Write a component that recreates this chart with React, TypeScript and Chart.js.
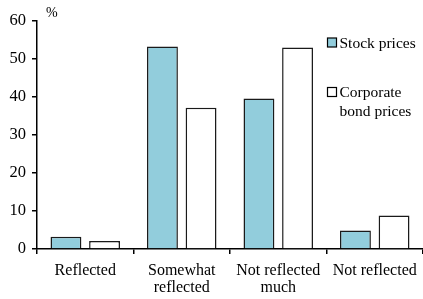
import React, { useEffect, useRef } from "react";
import { Chart, registerables } from "chart.js";

Chart.register(...registerables);

const categories: (string | string[])[] = [
  "Reflected",
  ["Somewhat", "reflected"],
  ["Not reflected", "much"],
  "Not reflected",
];
const stockPrices = [3.2, 53.3, 39.6, 4.9];
const bondPrices = [2.1, 37.2, 53.0, 8.8];
const seriesLabels = ["Stock prices", ["Corporate", "bond prices"]];
const yTicks = [0, 10, 20, 30, 40, 50, 60];
const unitLabel = "%";

const FONT = "'Liberation Serif', 'Times New Roman', serif";

const overlayPlugin = {
  id: "overlay",
  afterDraw(chart: any) {
    const ctx = chart.ctx;
    const area = chart.chartArea;
    ctx.save();
    ctx.fillStyle = "#000";
    ctx.font = `14px ${FONT}`;
    ctx.textAlign = "left";
    ctx.textBaseline = "alphabetic";
    ctx.fillText(unitLabel, area.left + 9, area.top - 4);

    // legend
    const items = chart.data.datasets.map((d: any, i: number) => ({
      text: seriesLabels[i],
      fill: d.backgroundColor,
    }));
    const lx = 327.5;
    const ys = [42.5, 92];
    ctx.font = `15.5px ${FONT}`;
    ctx.textBaseline = "middle";
    items.forEach((it: any, i: number) => {
      const y = ys[i];
      ctx.fillStyle = it.fill;
      ctx.fillRect(lx, y - 4.5, 9, 9);
      ctx.strokeStyle = "#000";
      ctx.lineWidth = 1.2;
      ctx.strokeRect(lx, y - 4.5, 9, 9);
      ctx.fillStyle = "#000";
      const lines = Array.isArray(it.text) ? it.text : [it.text];
      lines.forEach((ln: string, j: number) => {
        ctx.fillText(ln, lx + 12, y + 1 + j * 19);
      });
    });
    ctx.restore();
  },
};

export default function App() {
  const ref = useRef<HTMLCanvasElement | null>(null);
  useEffect(() => {
    if (!ref.current) return;
    const chart = new Chart(ref.current, {
      type: "bar",
      data: {
        labels: categories as any,
        datasets: [
          {
            label: "Stock prices",
            data: stockPrices,
            backgroundColor: "#92CDDC",
            borderColor: "#1a1a1a",
            borderWidth: 1.5,
            categoryPercentage: 0.8,
            barPercentage: 0.8,
          },
          {
            label: "Corporate bond prices",
            data: bondPrices,
            backgroundColor: "#ffffff",
            borderColor: "#1a1a1a",
            borderWidth: 1.5,
            categoryPercentage: 0.8,
            barPercentage: 0.8,
          },
        ],
      },
      options: {
        animation: false,
        responsive: false,
        maintainAspectRatio: false,
        layout: { padding: { top: 21, right: 0, left: 0, bottom: 0 } },
        plugins: {
          legend: { display: false },
          tooltip: { enabled: false },
        },
        scales: {
          x: {
            offset: true,
            afterFit: (axis: any) => {
              axis.height = 50;
              axis.paddingLeft = 0;
              axis.paddingRight = 0;
            },
            border: { display: true, color: "#000", width: 1.5 },
            grid: {
              display: true,
              offset: true,
              drawOnChartArea: false,
              drawTicks: true,
              tickLength: 5,
              color: "#000",
              lineWidth: 1.5,
            },
            ticks: {
              color: "#000",
              font: { family: FONT, size: 16, lineHeight: 1.08 },
              padding: 8,
              maxRotation: 0,
              autoSkip: false,
            },
          },
          y: {
            min: 0,
            max: 60,
            afterFit: (axis: any) => {
              axis.width = 37;
            },
            afterBuildTicks: (axis: any) => {
              axis.ticks = yTicks.map((v) => ({ value: v }));
            },
            border: { display: true, color: "#000", width: 1.5 },
            grid: {
              display: true,
              drawOnChartArea: false,
              drawTicks: true,
              tickLength: 5,
              color: "#000",
              lineWidth: 1.5,
            },
            ticks: {
              color: "#000",
              font: { family: FONT, size: 16.5 },
              padding: 6,
            },
          },
        },
      },
      plugins: [overlayPlugin],
    });
    return () => chart.destroy();
  }, []);
  return (
    <div style={{ position: "fixed", left: 0, top: 0, width: 423, height: 299, background: "#fff" }}>
      <canvas ref={ref} width={423} height={299} style={{ width: 423, height: 299, display: "block" }} />
    </div>
  );
}
